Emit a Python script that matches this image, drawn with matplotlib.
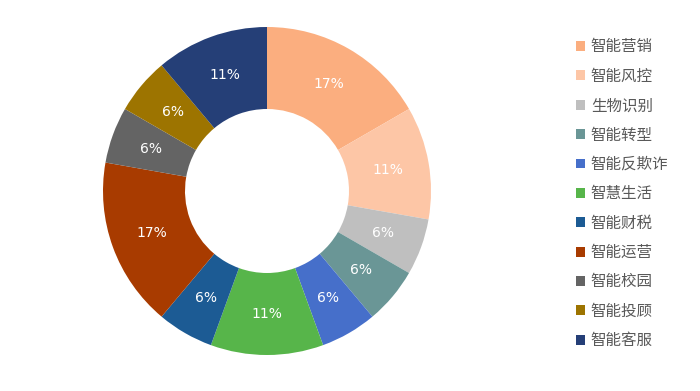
import matplotlib
matplotlib.use("Agg")
import matplotlib.pyplot as plt
from matplotlib.patches import Patch

plt.rcParams['font.family'] = ['Noto Sans CJK SC', 'DejaVu Sans']

labels = ["智能营销", "智能风控", "生物识别", "智能转型", "智能反欺诈", "智慧生活",
          "智能财税", "智能运营", "智能校园", "智能投顾", "智能客服"]
values = [3, 2, 1, 1, 1, 2, 1, 3, 1, 1, 2]
colors = ["#FBAE7F", "#FDC6A6", "#BFBFBF", "#6A9696", "#466FCA", "#57B54A",
          "#1C5B94", "#A83B00", "#646464", "#9D7400", "#253F77"]

fig = plt.figure(figsize=(7, 3.91), dpi=100)
# square axes: pie centre near (267, 191) px, radius ~164 px
ax = fig.add_axes([103 / 700, 36 / 391, 328 / 700, 328 / 391])

wedges, texts, autotexts = ax.pie(
    values, colors=colors, startangle=90, counterclock=False,
    autopct=lambda p: f"{p:.0f}%", pctdistance=0.75,
    wedgeprops=dict(width=0.5, linewidth=0),
    textprops=dict(color="white", fontsize=10, family="DejaVu Sans"))
ax.set_xlim(-1, 1)
ax.set_ylim(-1, 1)
ax.set_aspect("equal")

handles = [Patch(facecolor=c, edgecolor="none") for c in colors]
leg = fig.legend(handles, labels, loc="upper left", bbox_to_anchor=(576 / 700, 1 - 38.5 / 391),
                 frameon=False, fontsize=11.2, handlelength=0.6, handleheight=0.6,
                 handletextpad=0.35, labelspacing=0.795, borderaxespad=0, borderpad=0)
for t in leg.get_texts():
    t.set_color("#595959")

fig.savefig("out.png", dpi=100)
